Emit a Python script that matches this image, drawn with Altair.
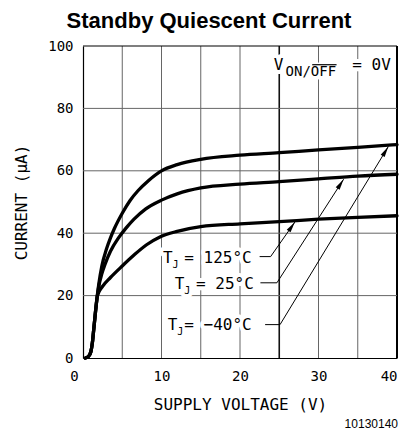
import altair as alt
import pandas as pd
import numpy as np

# ---- data ----
x_ticks = [0, 5, 10, 15, 20, 25, 30, 35, 40]
y_ticks = [0, 20, 40, 60, 80, 100]

v_125 = [0.3, 0.7, 1.0, 1.2, 1.4, 1.6, 1.8, 2.0, 2.4, 3.0, 3.5, 4.0, 5.0, 6.0, 7.0, 8.4, 10, 12, 15, 20, 25, 30, 35, 40]
i_125 = [0, 0.5, 2, 5, 10, 15, 19.5, 23.5, 29.5, 35.0, 38.5, 41.5, 46.4, 50.5, 53.6, 57.0, 60.0, 62.0, 63.7, 65.0, 65.8, 66.7, 67.5, 68.4]

v_25 = [0.3, 0.7, 1.0, 1.2, 1.4, 1.6, 1.8, 2.0, 2.4, 2.8, 3.5, 4.5, 5.5, 6.5, 8.0, 10, 12, 15, 20, 25, 30, 35, 40]
i_25 = [0, 0.5, 2, 5, 10, 15, 19.5, 22.8, 27.0, 30.0, 34.2, 38.4, 41.7, 44.5, 47.8, 50.6, 52.6, 54.5, 55.7, 56.5, 57.4, 58.3, 58.9]

v_m40 = [0.3, 0.7, 1.0, 1.2, 1.4, 1.6, 1.8, 2.0, 2.5, 3.5, 5.0, 6.5, 8.1, 9.8, 12, 15, 20, 25, 30, 35, 40]
i_m40 = [0, 0.5, 2, 5, 10, 15, 19.5, 21.0, 23.0, 25.8, 29.5, 33.0, 36.3, 38.8, 40.6, 42.1, 43.0, 43.7, 44.5, 45.1, 45.6]

# annotation labels (T, subscript J, rest)
lab_names = ["125", "25", "-40"]
lab_rest = ["= 125°C", "= 25°C", "= −40°C"]
lab_T_v = [10.2, 11.7, 10.8]
lab_T_i = [30.5, 22.2, 9.1]
lab_J_v = [11.4, 12.9, 12.0]
lab_J_i = [28.7, 20.4, 7.3]
lab_R_v = [12.9, 14.4, 12.9]

# leader lines: start, knee, arrow tip
lead_v = [[22.5, 23.9, 27.0], [22.6, 24.7, 33.2], [23.2, 25.1, 38.9]]
lead_i = [[32.5, 32.5, 43.6], [24.1, 24.1, 57.3], [10.7, 10.7, 67.8]]

W, H = 314, 312
XMAX, YMAX = 40, 100

curves = pd.concat([
    pd.DataFrame({"v": v_125, "i": i_125, "s": "125"}),
    pd.DataFrame({"v": v_25, "i": i_25, "s": "25"}),
    pd.DataFrame({"v": v_m40, "i": i_m40, "s": "-40"}),
])

lead_rows = []
arrow_rows = []
pxx, pxy = W / XMAX, H / YMAX
L = 11.0
for n, vs, cs in zip(lab_names, lead_v, lead_i):
    for k, (a, b) in enumerate(zip(vs, cs)):
        lead_rows.append({"lab": n, "o": k, "v": a, "i": b})
    dxp = (vs[2] - vs[1]) * pxx
    dyp = (cs[2] - cs[1]) * pxy
    ln = np.hypot(dxp, dyp)
    ang = float(np.degrees(np.arctan2(dxp, dyp)))
    cv = vs[2] - (dxp / ln) * (L / 2) / pxx
    ci = cs[2] - (dyp / ln) * (L / 2) / pxy
    arrow_rows.append({"v": cv, "i": ci, "ang": ang})
leads = pd.DataFrame(lead_rows)
arrows = pd.DataFrame(arrow_rows)

text_rows = []
for k in range(3):
    text_rows.append({"v": lab_T_v[k], "i": lab_T_i[k], "t": "T", "fs": 16})
    text_rows.append({"v": lab_J_v[k], "i": lab_J_i[k], "t": "J", "fs": 10})
    text_rows.append({"v": lab_R_v[k], "i": lab_T_i[k], "t": lab_rest[k], "fs": 16})
# V_ON/OFF = 0V
text_rows.append({"v": 24.3, "i": 92.4, "t": "V", "fs": 16})
text_rows.append({"v": 25.8, "i": 90.3, "t": "ON/OFF", "fs": 14})
text_rows.append({"v": 34.3, "i": 92.4, "t": "= 0V", "fs": 16})
texts = pd.DataFrame(text_rows)

overline = pd.DataFrame({"v": [29.2], "v2": [32.3], "i": [94.0]})
vgrid = pd.DataFrame({"v": x_ticks[1:]})
hgrid = pd.DataFrame({"i": y_ticks[1:]})

MONO = "DejaVu Sans Mono"

xs = alt.Scale(domain=[0, XMAX], nice=False)
ys = alt.Scale(domain=[0, YMAX], nice=False)

x_axis = alt.Axis(
    values=x_ticks, title="SUPPLY VOLTAGE (V)", grid=False,
    labelOffset={"condition": {"test": "datum.value === 0", "value": -9}, "value": 0},
    labelAlign={"condition": {"test": "datum.value === 40", "value": "right"}, "value": "center"},
    labelFlush=False, ticks=False, tickSize=0, labelPadding=11, titlePadding=13,
    domainColor="black", domainWidth=1.2,
)
y_axis = alt.Axis(
    values=y_ticks, title="CURRENT (µA)", grid=False,
    labelFlush=False, ticks=False, tickSize=0, labelPadding=10, titlePadding=18,
    domainColor="black", domainWidth=1.2,
)

X = alt.X("v:Q", scale=xs, axis=x_axis)
Y = alt.Y("i:Q", scale=ys, axis=y_axis)

base_axes = alt.Chart(curves).mark_line(opacity=0).encode(x=X, y=Y, detail="s:N")

vgrid_thin = alt.Chart(vgrid).transform_filter("datum.v != 25 && datum.v != 40").mark_rule(
    color="#666666", strokeWidth=1).encode(x=alt.X("v:Q", scale=xs))
vgrid_mid = alt.Chart(vgrid).transform_filter("datum.v == 25").mark_rule(
    color="#111111", strokeWidth=1.6).encode(x=alt.X("v:Q", scale=xs))
vgrid_edge = alt.Chart(vgrid).transform_filter("datum.v == 40").mark_rule(
    color="black", strokeWidth=2).encode(x=alt.X("v:Q", scale=xs))
hgrid_thin = alt.Chart(hgrid).transform_filter("datum.i != 100").mark_rule(
    color="#666666", strokeWidth=1).encode(y=alt.Y("i:Q", scale=ys))
hgrid_top = alt.Chart(hgrid).transform_filter("datum.i == 100").mark_rule(
    color="black", strokeWidth=1.2).encode(y=alt.Y("i:Q", scale=ys))

halo = alt.Chart(texts).mark_text(
    font=MONO, align="left", baseline="alphabetic", color="white",
    stroke="white", strokeWidth=8, strokeJoin="round",
).encode(x=alt.X("v:Q", scale=xs), y=alt.Y("i:Q", scale=ys), text="t:N",
         size=alt.Size("fs:Q", scale=None, legend=None))

lead_layer = alt.Chart(leads).mark_line(color="black", strokeWidth=1).encode(
    x=alt.X("v:Q", scale=xs), y=alt.Y("i:Q", scale=ys), detail="lab:N", order="o:Q")

arrow_layer = alt.Chart(arrows).mark_point(
    shape="M0,-1L0.42,1L-0.42,1Z", filled=True, color="black", opacity=1, size=L * L, strokeWidth=0,
).encode(x=alt.X("v:Q", scale=xs), y=alt.Y("i:Q", scale=ys), angle=alt.Angle("ang:Q", scale=None))

curve_layer = alt.Chart(curves).mark_line(
    color="black", strokeWidth=3.3, interpolate="monotone", strokeCap="round"
).encode(x=alt.X("v:Q", scale=xs), y=alt.Y("i:Q", scale=ys), detail="s:N")

text_layer = alt.Chart(texts).mark_text(
    font=MONO, align="left", baseline="alphabetic", color="black",
).encode(x=alt.X("v:Q", scale=xs), y=alt.Y("i:Q", scale=ys), text="t:N",
         size=alt.Size("fs:Q", scale=None, legend=None))

over_layer = alt.Chart(overline).mark_rule(color="black", strokeWidth=1.2).encode(
    x=alt.X("v:Q", scale=xs), x2="v2:Q", y=alt.Y("i:Q", scale=ys))

one = pd.DataFrame({"a": [0]})
title_layer = alt.Chart(one).mark_text(
    font="Liberation Sans", fontSize=22, fontWeight="bold", align="center",
    baseline="alphabetic", color="black",
).encode(x=alt.value(126), y=alt.value(-18), text=alt.value("Standby Quiescent Current"))

foot = alt.Chart(one).mark_text(
    font="Liberation Sans", fontSize=12, align="right", baseline="alphabetic", color="black"
).encode(x=alt.value(315), y=alt.value(382), text=alt.value("10130140"))

chart = alt.layer(
    base_axes, vgrid_thin, vgrid_mid, vgrid_edge, hgrid_thin, hgrid_top, halo, lead_layer,
    curve_layer, arrow_layer, text_layer, over_layer, title_layer, foot
).properties(
    width=W, height=H,
    autosize="none",
    padding={"left": 75, "top": 38, "right": 4, "bottom": 72},
).configure_view(stroke=None).configure_axis(
    labelFont=MONO, labelFontSize=14, labelColor="black",
    titleFont=MONO, titleFontSize=16, titleFontWeight="normal", titleColor="black",
)

chart.save("out.html", embed_options={"renderer": "svg", "actions": False})
